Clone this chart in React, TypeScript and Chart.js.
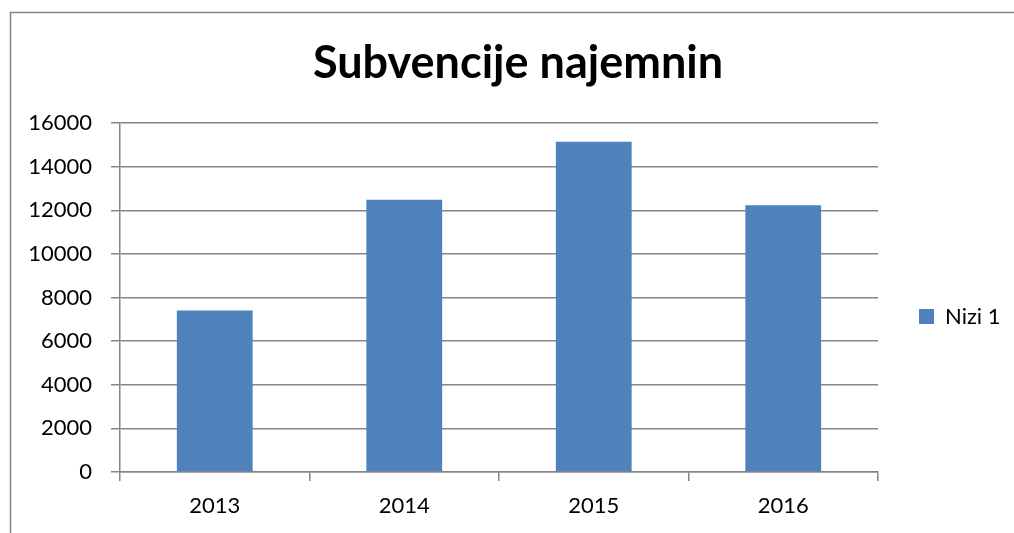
import React, { useEffect, useRef } from "react";
import { Chart, registerables } from "chart.js";

Chart.register(...registerables);

const chartTitle = "Subvencije najemnin";
const categories = ["2013", "2014", "2015", "2016"];
const seriesName = "Nizi 1";
const seriesValues = [7400, 12480, 15140, 12230];
const yTicks = [0, 2000, 4000, 6000, 8000, 10000, 12000, 14000, 16000];

const W = 1014;
const H = 533;
const FONT = "Lato";
const GRID = "#868686";
const BAR = "#4F81BD";
const LINE_W = 1.5;

const borderPlugin = {
  id: "frameBorder",
  beforeDraw(chart: any) {
    const ctx = chart.ctx;
    ctx.save();
    ctx.fillStyle = "#ffffff";
    ctx.fillRect(0, 0, chart.width, chart.height);
    ctx.strokeStyle = GRID;
    ctx.lineWidth = LINE_W;
    ctx.beginPath();
    ctx.moveTo(10.5, chart.height);
    ctx.lineTo(10.5, 12.5);
    ctx.lineTo(chart.width, 12.5);
    ctx.stroke();
    ctx.restore();
  },
};

// The original chart frame spans x = 10 .. ~1026; centre the title on that frame.
const titleFramePlugin = {
  id: "titleFrame",
  afterLayout(chart: any) {
    const tb = chart.titleBlock;
    if (tb) {
      tb.left = 10;
      tb.right = 1026;
      tb.width = tb.right - tb.left;
    }
  },
};

export default function App() {
  const ref = useRef<HTMLCanvasElement | null>(null);

  useEffect(() => {
    if (!ref.current) return;
    const legendFontSize = 22;
    const legendPad = 41;
    const boxW = 15;
    const m = document.createElement("canvas").getContext("2d")!;
    m.font = `${legendFontSize}px ${FONT}`;
    const textW = m.measureText(seriesName).width;
    const legendWidth = legendPad + boxW + legendFontSize / 2 + textW + 10;
    const plotRight = 878;
    const padRight = Math.max(0, W - plotRight - legendWidth);

    const plotTop = 123;
    const plotBottom = 472;
    const titleSize = 45;
    const titlePadTop = 36;
    const titlePadBottom = plotTop - titlePadTop - titleSize * 1.2;
    const legendCenter = 316.5;
    const legendTitleH = 2 * legendCenter - (plotTop + plotBottom);

    const chart = new Chart(ref.current, {
      type: "bar",
      data: {
        labels: categories,
        datasets: [
          {
            label: seriesName,
            data: seriesValues,
            backgroundColor: BAR,
            borderWidth: 0,
            barPercentage: 0.4,
            categoryPercentage: 1,
          },
        ],
      },
      options: {
        animation: false,
        responsive: false,
        devicePixelRatio: 1,
        layout: { padding: { left: 0, top: 0, bottom: 0, right: padRight } },
        plugins: {
          tooltip: { enabled: false },
          title: {
            display: true,
            text: chartTitle,
            color: "#000",
            font: { family: FONT, size: titleSize, weight: "bold", lineHeight: 1.2 },
            padding: { top: titlePadTop, bottom: titlePadBottom },
          },
          legend: {
            display: true,
            position: "right",
            fullSize: false,
            align: "center",
            title: {
              display: true,
              text: "",
              font: { family: FONT, size: 1, lineHeight: 1 },
              padding: { top: Math.max(0, legendTitleH - 1), bottom: 0 },
            },
            labels: {
              boxWidth: boxW,
              boxHeight: 15,
              padding: legendPad,
              color: "#000",
              font: { family: FONT, size: legendFontSize },
            },
          },
        },
        scales: {
          x: {
            offset: true,
            grid: {
              display: true,
              drawOnChartArea: false,
              drawTicks: true,
              tickLength: 9,
              color: GRID,
              lineWidth: LINE_W,
              offset: true,
            },
            border: { display: true, color: GRID, width: LINE_W },
            ticks: {
              color: "#000",
              padding: 12,
              font: { family: FONT, size: 22 },
              maxRotation: 0,
            },
            afterFit(scale: any) {
              scale.height = H - plotBottom;
            },
          },
          y: {
            min: 0,
            max: 16000,
            grid: {
              display: true,
              drawOnChartArea: true,
              drawTicks: true,
              tickLength: 9,
              color: GRID,
              lineWidth: LINE_W,
            },
            border: { display: true, color: GRID, width: LINE_W },
            ticks: {
              color: "#000",
              padding: 19,
              font: { family: FONT, size: 22 },
              callback: (v: any) => String(v),
            },
            afterBuildTicks(scale: any) {
              scale.ticks = yTicks.map((v) => ({ value: v }));
            },
            afterFit(scale: any) {
              scale.width = 120;
            },
          },
        },
      },
      plugins: [borderPlugin, titleFramePlugin],
    });
    return () => chart.destroy();
  }, []);

  return (
    <div style={{ position: "absolute", left: 0, top: 0, width: W, height: H, background: "#fff" }}>
      <canvas ref={ref} width={W} height={H} style={{ display: "block", width: W, height: H }} />
    </div>
  );
}
